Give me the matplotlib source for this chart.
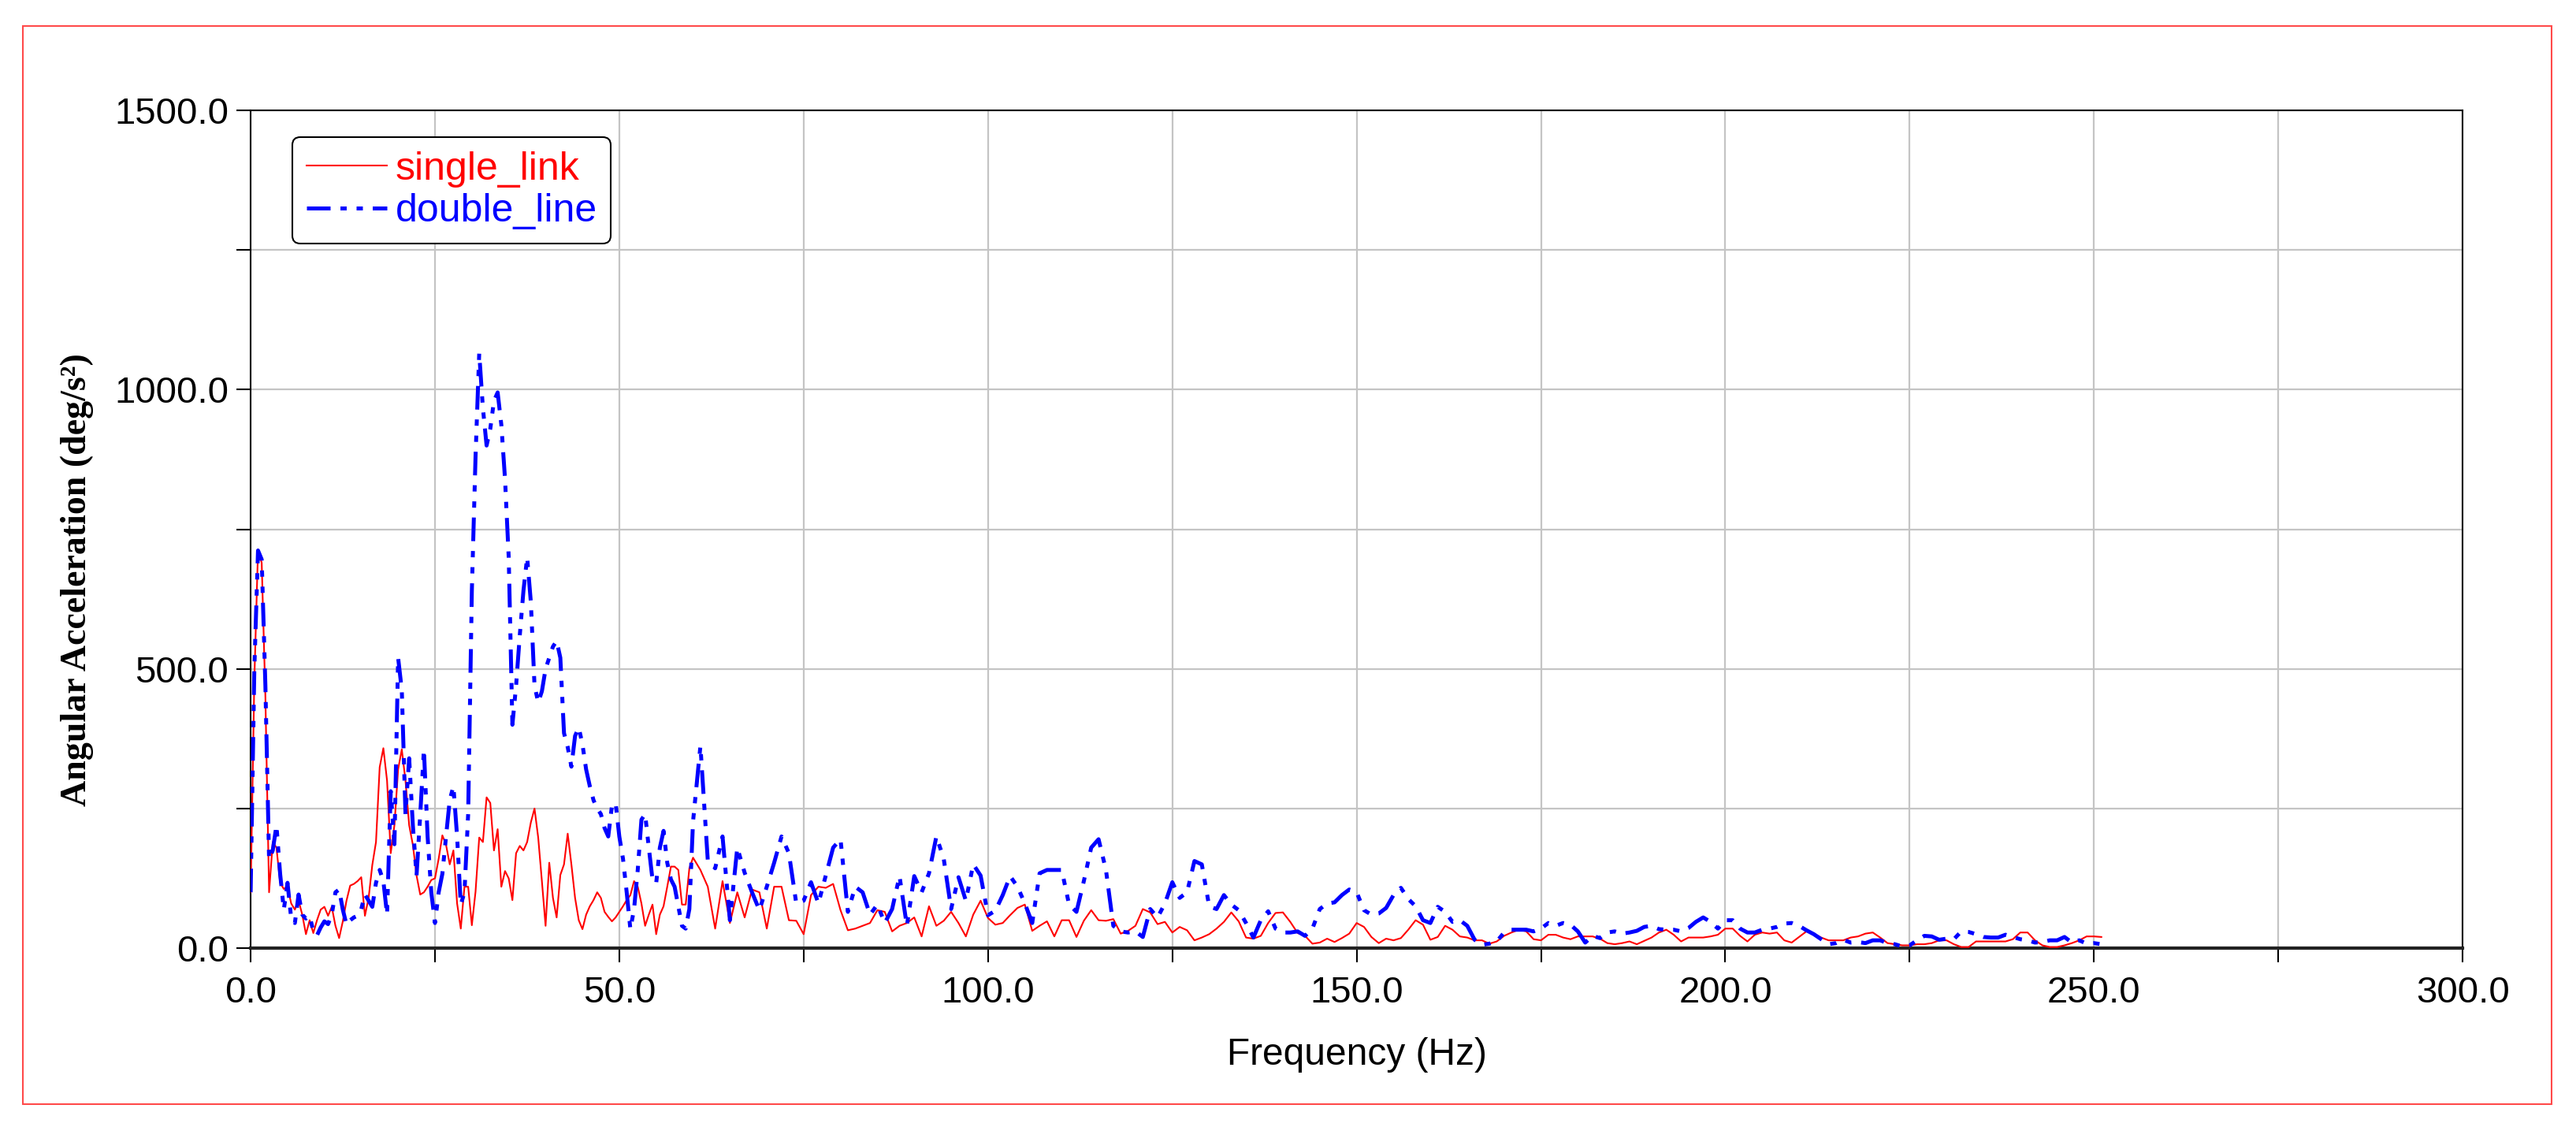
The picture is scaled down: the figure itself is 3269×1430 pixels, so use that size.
import numpy as np
import matplotlib
matplotlib.use("Agg")
import matplotlib.pyplot as plt
from matplotlib.patches import Rectangle
from matplotlib.ticker import FuncFormatter

# frequency grid: 0.5 Hz steps up to 60 Hz, then 1 Hz steps to 251 Hz
freq_low = np.arange(0, 60, 0.5)
freq_high = np.arange(60, 252, 1)

# single_link spectrum (deg/s^2)
single_low = [100, 480, 714, 690, 450, 100, 190, 180, 117, 106,
              110, 80, 69, 85, 60, 25, 50, 27, 50, 69,
              74, 58, 74, 40, 18, 48, 85, 112, 115, 120,
              127, 58, 90, 149, 190, 324, 358, 300, 170, 220,
              320, 356, 300, 220, 185, 130, 96, 100, 110, 122,
              125, 160, 202, 185, 150, 175, 80, 35, 110, 110,
              41, 101, 198, 190, 270, 260, 175, 213, 110, 138,
              125, 86, 170, 183, 175, 190, 225, 250, 198, 120,
              40, 153, 90, 55, 131, 150, 205, 150, 90, 50,
              34, 60, 75, 86, 100, 90, 65, 56, 48, 55,
              65, 75, 86, 95, 120, 110, 80, 40, 60, 78,
              25, 60, 75, 110, 146, 146, 140, 78, 78, 143]
single_high = [162, 140, 110, 35, 120, 45, 100, 55, 105, 100,
               35, 110, 110, 50, 49, 25, 95, 110, 108, 115,
               68, 32, 35, 40, 45, 68, 65, 30, 40, 45,
               55, 21, 75, 40, 49, 65, 45, 21, 60, 85,
               54, 42, 45, 59, 72, 78, 31, 40, 48, 21,
               50, 50, 20, 49, 68, 50, 49, 52, 26, 31,
               40, 70, 64, 43, 47, 28, 38, 32, 14, 19,
               25, 35, 47, 64, 48, 19, 17, 22, 45, 63,
               64, 47, 27, 22, 8, 10, 17, 11, 18, 26,
               45, 38, 20, 9, 17, 14, 18, 33, 50, 42,
               15, 20, 40, 33, 21, 19, 14, 14, 8, 12,
               22, 28, 33, 30, 16, 14, 24, 24, 19, 16,
               21, 21, 21, 17, 9, 7, 9, 12, 7, 13,
               19, 28, 33, 24, 12, 19, 19, 19, 21, 24,
               35, 35, 22, 12, 24, 28, 26, 28, 14, 10,
               20, 30, 26, 19, 14, 14, 14, 19, 21, 26,
               28, 19, 9, 7, 5, 5, 7, 7, 9, 14,
               14, 7, 2, 2, 12, 12, 12, 12, 12, 16,
               28, 28, 14, 5, 2, 2, 5, 9, 14, 21,
               21, 20]

# double_line spectrum (deg/s^2)
double_low = [100, 500, 712, 696, 470, 159, 175, 220, 133, 69,
              117, 53, 45, 96, 60, 53, 58, 30, 23, 37,
              48, 43, 60, 100, 105, 69, 42, 50, 55, 58,
              70, 96, 85, 74, 117, 140, 120, 60, 281, 186,
              520, 462, 240, 340, 220, 130, 239, 356, 200, 100,
              45, 100, 133, 200, 265, 290, 200, 78, 100, 240,
              640, 880, 1065, 967, 900, 930, 980, 995, 937, 840,
              700, 400, 470, 560, 640, 700, 620, 470, 440, 460,
              500, 520, 540, 550, 520, 385, 360, 325, 380, 395,
              365, 320, 290, 265, 250, 240, 215, 200, 255, 260,
              200, 160, 100, 34, 70, 140, 230, 240, 180, 123,
              116, 180, 210, 153, 123, 110, 75, 40, 35, 70]
double_high = [227, 362, 157, 143, 200, 50, 180, 135, 100, 68,
               110, 153, 200, 170, 80, 85, 118, 80, 130, 180,
               195, 65, 110, 100, 60, 78, 45, 70, 129, 40,
               129, 100, 134, 200, 160, 70, 127, 85, 150, 130,
               59, 67, 95, 129, 110, 80, 45, 134, 140, 140,
               140, 78, 65, 120, 180, 195, 140, 40, 30, 28,
               30, 20, 70, 55, 80, 118, 90, 100, 156, 150,
               75, 70, 95, 78, 68, 45, 19, 50, 66, 35,
               28, 28, 30, 22, 35, 70, 80, 82, 95, 105,
               100, 68, 60, 62, 72, 95, 108, 88, 75, 50,
               45, 74, 65, 47, 50, 40, 15, 6, 8, 12,
               28, 33, 33, 33, 30, 35, 45, 40, 45, 42,
               30, 10, 22, 18, 28, 30, 26, 28, 31, 38,
               40, 34, 33, 33, 30, 36, 47, 55, 47, 35,
               50, 50, 35, 28, 28, 33, 35, 38, 44, 45,
               40, 32, 25, 16, 7, 9, 15, 10, 11, 9,
               14, 14, 9, 7, 3, 5, 14, 22, 21, 15,
               17, 16, 30, 29, 25, 20, 19, 19, 24, 20,
               16, 14, 10, 11, 14, 14, 20, 10, 14, 8,
               9, 7]

freq = np.concatenate([freq_low, freq_high])
single_link = np.array(single_low + single_high, dtype=float)
double_line = np.array(double_low + double_high, dtype=float)

plt.rcParams['font.family'] = ['Liberation Sans', 'DejaVu Sans']

fig = plt.figure(figsize=(32.69, 14.30), dpi=100)
ax = fig.add_axes([0.0973, 0.1587, 0.8587, 0.7433])

ax.plot(freq, single_link, color='#ff0000', linewidth=1.5, label='single_link', zorder=3)
ax.plot(freq, double_line, color='#0000ff', linewidth=3.6,
        linestyle=(0, (6, 2.5, 1.6, 2.5, 1.6, 2.5)), label='double_line', zorder=4)

ax.set_xlim(0, 300)
ax.set_ylim(0, 1500)
ax.set_xticks(np.arange(0, 301, 25))
ax.set_yticks(np.arange(0, 1501, 250))
ax.xaxis.set_major_formatter(FuncFormatter(lambda v, p: f"{v:.1f}" if v % 50 == 0 else ""))
ax.yaxis.set_major_formatter(FuncFormatter(lambda v, p: f"{v:.1f}" if v % 500 == 0 else ""))
ax.tick_params(axis='both', direction='out', length=13, width=1.5, labelsize=34, color='black')
ax.tick_params(axis='x', pad=12)
ax.tick_params(axis='y', pad=7)

ax.grid(True, color='#c4c4c4', linewidth=1.6)
ax.set_axisbelow(True)

for side in ['left', 'top', 'right']:
    ax.spines[side].set_linewidth(1.5)
    ax.spines[side].set_color('black')
ax.spines['bottom'].set_linewidth(3.0)
ax.spines['bottom'].set_color('#222222')

ax.set_xlabel('Frequency (Hz)', fontsize=34.5)
ax.xaxis.set_label_coords(0.5, -0.106)
ax.set_ylabel('Angular Acceleration (deg/s²)', fontsize=33, fontweight='bold',
              family=['Liberation Serif', 'DejaVu Serif'])
ax.yaxis.set_label_coords(-0.071, 0.44)

leg = ax.legend(loc='upper left', bbox_to_anchor=(0.019, 0.968), fontsize=36,
                labelcolor='linecolor', frameon=True, fancybox=True,
                edgecolor='black', framealpha=1.0, handlelength=2.05,
                handletextpad=0.2, labelspacing=0.15, borderpad=0.35,
                borderaxespad=0.0)
leg.get_frame().set_linewidth(1.5)

# red outer frame
fig.add_artist(Rectangle((0.0089, 0.0203), 0.9816, 0.9567, transform=fig.transFigure,
                         fill=False, edgecolor='#ff4a4a', linewidth=1.5))

fig.savefig('out.png', dpi=100)
